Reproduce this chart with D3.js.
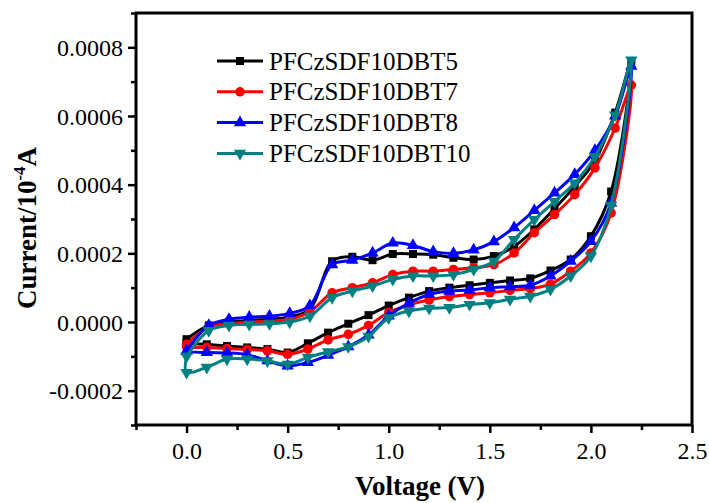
<!DOCTYPE html>
<html>
<head>
<meta charset="utf-8">
<script src="https://cdn.jsdelivr.net/npm/d3@7"></script>
<style>
  html, body { margin: 0; padding: 0; background: #fff; }
  svg text { font-family: "Liberation Serif", "Times New Roman", serif; }
</style>
</head>
<body>
<div id="chart"></div>
<script>
// variables
const WIDTH = 709;
const HEIGHT = 503;

// series names and colours
const names = ["PFCzSDF10DBT5", "PFCzSDF10DBT7", "PFCzSDF10DBT8", "PFCzSDF10DBT10"];
const colors = ["#000000", "#ff0000", "#0000ff", "#008080"];
const symbols = ["square", "circle", "triangle", "triangleDown"];

// voltage of the points: forward scan (0 -> 2.2 V) then reverse scan (2.1 -> 0 V)
const forwardV = [0, 0.11, 0.21, 0.31, 0.41, 0.51, 0.61, 0.72, 0.82, 0.92, 1.02, 1.12,
  1.22, 1.32, 1.42, 1.52, 1.62, 1.72, 1.82, 1.92, 2.02, 2.12, 2.2];
const reverseV = [2.1, 2.0, 1.9, 1.8, 1.7, 1.6, 1.5, 1.4, 1.3, 1.2, 1.1, 1.0,
  0.9, 0.8, 0.7, 0.6, 0.5, 0.4, 0.3, 0.2, 0.1, 0.0];

// current in units of 1e-4 A
const dbt5Forward = [-0.5, -0.1, 0.0, 0.05, 0.08, 0.15, 0.37, 1.77, 1.9, 1.8, 1.98, 1.98,
  1.96, 1.87, 1.82, 1.92, 2.2, 2.7, 3.3, 3.95, 4.7, 6.1, 7.6];
const dbt5Reverse = [3.8, 2.5, 1.82, 1.5, 1.27, 1.21, 1.14, 1.07, 1.0, 0.9, 0.71, 0.48,
  0.2, -0.05, -0.31, -0.62, -0.89, -0.79, -0.74, -0.7, -0.65, -0.6];

const dbt7Forward = [-0.65, -0.15, -0.05, 0.0, 0.03, 0.08, 0.3, 0.85, 1.0, 1.14, 1.38, 1.48,
  1.48, 1.53, 1.58, 1.67, 2.01, 2.6, 3.13, 3.71, 4.49, 5.65, 6.9];
const dbt7Reverse = [3.18, 2.01, 1.48, 1.1, 0.97, 0.92, 0.85, 0.8, 0.74, 0.64, 0.5, 0.28,
  -0.1, -0.36, -0.52, -0.79, -0.94, -0.84, -0.8, -0.77, -0.74, -0.72];

const dbt8Forward = [-0.84, -0.1, 0.08, 0.14, 0.17, 0.25, 0.48, 1.67, 1.8, 2.01, 2.3, 2.23,
  2.05, 2.0, 2.1, 2.34, 2.75, 3.25, 3.76, 4.3, 5.0, 6.0, 7.45];
const dbt8Reverse = [3.47, 2.35, 1.77, 1.34, 1.07, 1.03, 1.0, 0.93, 0.9, 0.8, 0.55, 0.18,
  -0.38, -0.72, -0.97, -1.18, -1.28, -1.13, -0.95, -0.9, -0.89, -0.85];

const dbt10Forward = [-1.0, -0.25, -0.1, -0.07, -0.05, 0.0, 0.17, 0.71, 0.9, 1.05, 1.24, 1.34,
  1.34, 1.38, 1.53, 1.77, 2.4, 2.98, 3.51, 4.05, 4.82, 6.03, 7.63];
const dbt10Reverse = [3.4, 1.92, 1.34, 0.95, 0.75, 0.66, 0.56, 0.51, 0.42, 0.4, 0.32, 0.12,
  -0.42, -0.72, -0.87, -1.03, -1.23, -1.13, -1.08, -1.08, -1.32, -1.47];

const forwards = [dbt5Forward, dbt7Forward, dbt8Forward, dbt10Forward];
const reverses = [dbt5Reverse, dbt7Reverse, dbt8Reverse, dbt10Reverse];

// ticks
const xTicks = [0, 0.5, 1.0, 1.5, 2.0, 2.5];
const xMinor = [-0.25, 0.25, 0.75, 1.25, 1.75, 2.25];
const yTicks = [-0.0002, 0, 0.0002, 0.0004, 0.0006, 0.0008];
const yMinor = [-0.0003, -0.0001, 0.0001, 0.0003, 0.0005, 0.0007, 0.0009];

const margin = { left: 136, right: WIDTH - 692, top: 13, bottom: HEIGHT - 425 };

const x = d3.scaleLinear().domain([-0.25, 2.5]).range([margin.left, WIDTH - margin.right]);
const y = d3.scaleLinear().domain([-0.0003, 0.0009]).range([HEIGHT - margin.bottom, margin.top]);

const svg = d3.select("#chart").append("svg")
  .attr("width", WIDTH)
  .attr("height", HEIGHT);

// build point lists for each loop
const series = names.map((name, i) => {
  const pts = forwardV.map((v, j) => [v, forwards[i][j] * 1e-4])
    .concat(reverseV.map((v, j) => [v, reverses[i][j] * 1e-4]));
  return { name: name, color: colors[i], symbol: symbols[i], points: pts };
});

function symbolPath(type, size) {
  if (type === "square") return d3.symbol(d3.symbolSquare, size)();
  if (type === "circle") return d3.symbol(d3.symbolCircle, size)();
  return d3.symbol(d3.symbolTriangle, size)();
}

function drawSymbol(sel, type, color) {
  const sizes = { square: 64, circle: 72, triangle: 66, triangleDown: 66 };
  sel.append("path")
    .attr("d", symbolPath(type, sizes[type]))
    .attr("transform", "rotate(" + (type === "triangleDown" ? 180 : 0) + ")")
    .attr("fill", color)
    .attr("stroke", "none");
}

const line = d3.line()
  .x(d => x(d[0]))
  .y(d => y(d[1]))
  .curve(d3.curveCatmullRom.alpha(0.5));

const plot = svg.append("g");

series.forEach(s => {
  const g = plot.append("g");
  const closed = s.points.concat([s.points[0]]);
  g.append("path")
    .attr("d", line(closed))
    .attr("fill", "none")
    .attr("stroke", s.color)
    .attr("stroke-width", 3)
    .attr("stroke-linejoin", "round");

  const marks = g.selectAll("g.mark")
    .data(s.points)
    .enter()
    .append("g")
    .attr("class", "mark")
    .attr("transform", d => `translate(${x(d[0])},${y(d[1])})`);
  drawSymbol(marks, s.symbol, s.color);
});

// axes
const axisColor = "#000";
const fontTick = 24;
const yFormat = d => d3.format(".4f")(d).replace("\u2212", "-");

const xAxis = svg.append("g")
  .attr("transform", `translate(0,${y.range()[0]})`)
  .call(d3.axisBottom(x).tickValues(xTicks).tickSize(8).tickSizeOuter(0).tickFormat(d3.format(".1f")));
svg.append("g")
  .attr("transform", `translate(0,${y.range()[0]})`)
  .call(d3.axisBottom(x).tickValues(xMinor).tickSize(5).tickSizeOuter(0).tickFormat(""));

const yAxis = svg.append("g")
  .attr("transform", `translate(${x.range()[0]},0)`)
  .call(d3.axisLeft(y).tickValues(yTicks).tickSize(8).tickSizeOuter(0).tickFormat(yFormat));
svg.append("g")
  .attr("transform", `translate(${x.range()[0]},0)`)
  .call(d3.axisLeft(y).tickValues(yMinor).tickSize(5).tickSizeOuter(0).tickFormat(""));

svg.selectAll(".domain").remove();
svg.selectAll(".tick line").attr("stroke", axisColor).attr("stroke-width", 2.5);
svg.selectAll(".tick text")
  .attr("fill", "#000")
  .style("font-family", "'Liberation Serif', 'Times New Roman', serif")
  .style("font-size", fontTick + "px");
xAxis.selectAll(".tick text").attr("y", 17).attr("dy", "0.71em");
yAxis.selectAll(".tick text").attr("x", -13).attr("dy", "0.34em");

// frame
svg.append("rect")
  .attr("x", x.range()[0])
  .attr("y", y.range()[1])
  .attr("width", x.range()[1] - x.range()[0])
  .attr("height", y.range()[0] - y.range()[1])
  .attr("fill", "none")
  .attr("stroke", axisColor)
  .attr("stroke-width", 3);

// axis titles
svg.append("text")
  .attr("x", 420)
  .attr("y", 495)
  .attr("text-anchor", "middle")
  .attr("font-weight", "bold")
  .attr("font-size", 27)
  .text("Voltage (V)");

const yTitle = svg.append("text")
  .attr("transform", "translate(36,228) rotate(-90)")
  .attr("text-anchor", "middle")
  .attr("font-weight", "bold")
  .attr("font-size", 27);
yTitle.append("tspan").text("Current/10");
yTitle.append("tspan").attr("dy", -11).attr("font-size", 17).text("-4");
yTitle.append("tspan").attr("dy", 11).text("A");

// legend
const legend = svg.append("g").attr("transform", "translate(217,61)");
series.forEach((s, i) => {
  const row = legend.append("g").attr("transform", `translate(0,${i * 30.8})`);
  row.append("line")
    .attr("x1", 0).attr("x2", 46)
    .attr("stroke", s.color)
    .attr("stroke-width", 3);
  const m = row.append("g").attr("transform", "translate(23,0)");
  drawSymbol(m, s.symbol, s.color);
  row.append("text")
    .attr("x", 52)
    .attr("y", 0)
    .attr("dy", "0.34em")
    .attr("font-size", 25)
    .text(s.name);
});
</script>
</body>
</html>
